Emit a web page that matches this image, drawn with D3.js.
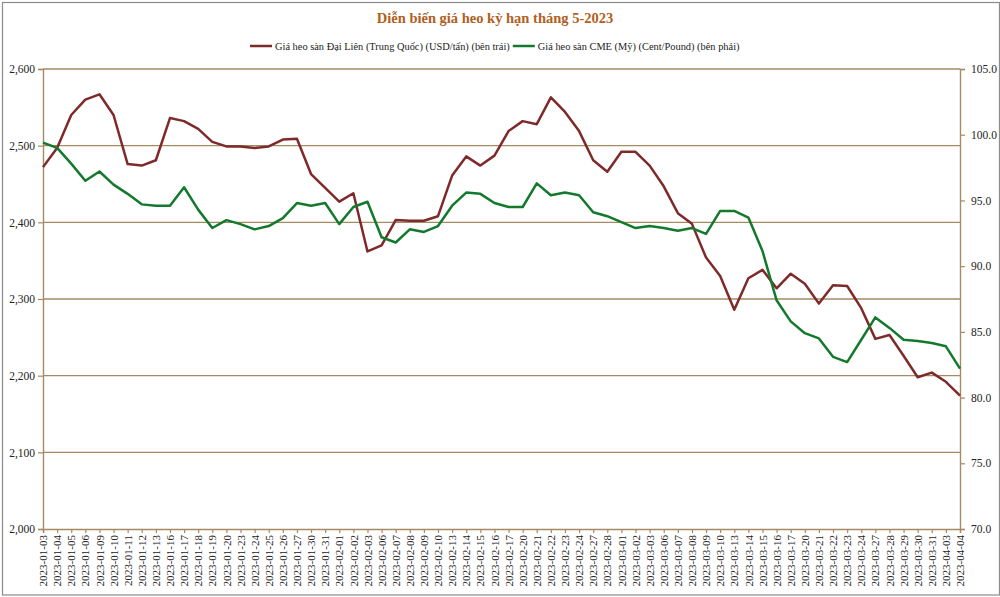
<!DOCTYPE html>
<html>
<head>
<meta charset="utf-8">
<script src="https://cdn.jsdelivr.net/npm/d3@7"></script>
<style>
  body { margin: 0; background: #fff; }
  svg { display: block; font-family: "Liberation Serif", "DejaVu Serif", serif; }
</style>
</head>
<body>
<svg id="chart" width="1000" height="597"></svg>
<script>
// dates on the x axis (trading days)
const dates = [
  "2023-01-03","2023-01-04","2023-01-05","2023-01-06","2023-01-09","2023-01-10","2023-01-11","2023-01-12","2023-01-13",
  "2023-01-16","2023-01-17","2023-01-18","2023-01-19","2023-01-20","2023-01-23","2023-01-24","2023-01-25","2023-01-26",
  "2023-01-27","2023-01-30","2023-01-31","2023-02-01","2023-02-02","2023-02-03","2023-02-06","2023-02-07","2023-02-08",
  "2023-02-09","2023-02-10","2023-02-13","2023-02-14","2023-02-15","2023-02-16","2023-02-17","2023-02-20","2023-02-21",
  "2023-02-22","2023-02-23","2023-02-24","2023-02-27","2023-02-28","2023-03-01","2023-03-02","2023-03-03","2023-03-06",
  "2023-03-07","2023-03-08","2023-03-09","2023-03-10","2023-03-13","2023-03-14","2023-03-15","2023-03-16","2023-03-17",
  "2023-03-20","2023-03-21","2023-03-22","2023-03-23","2023-03-24","2023-03-27","2023-03-28","2023-03-29","2023-03-30",
  "2023-03-31","2023-04-03","2023-04-04"
];

// Dalian hog futures, USD/ton (left axis)
const dalian = [
  2472, 2497, 2540, 2560, 2567, 2540, 2476, 2474, 2481,
  2536, 2532, 2522, 2505, 2499, 2499, 2497, 2499, 2508,
  2509, 2463, 2445, 2427, 2438, 2362, 2370, 2403, 2402,
  2402, 2408, 2461, 2486, 2474, 2487, 2519, 2532, 2528,
  2563, 2544, 2519, 2481, 2466, 2492, 2492, 2474, 2447,
  2412, 2398, 2354, 2330, 2286, 2327, 2338, 2314, 2333,
  2320, 2294, 2318, 2317, 2288, 2248, 2253, 2226, 2198,
  2204, 2192, 2174
];

// CME lean hog futures, cent/pound (right axis)
const cme = [
  99.4, 99.0, 97.8, 96.5, 97.2, 96.2, 95.5, 94.7, 94.6,
  94.6, 96.0, 94.3, 92.9, 93.5, 93.2, 92.8, 93.05, 93.65,
  94.8, 94.6, 94.8, 93.2, 94.5, 94.9, 92.2, 91.8, 92.8,
  92.6, 93.05, 94.6, 95.6, 95.5, 94.8, 94.5, 94.5, 96.3,
  95.4, 95.6, 95.4, 94.1, 93.8, 93.35, 92.9, 93.05, 92.9,
  92.7, 92.9, 92.45, 94.2, 94.2, 93.7, 91.15, 87.4, 85.8,
  84.9, 84.5, 83.1, 82.7, 84.4, 86.1, 85.3, 84.4, 84.3,
  84.15, 83.9, 82.2
];

const leftTicks = [2000, 2100, 2200, 2300, 2400, 2500, 2600];
const rightTicks = [70, 75, 80, 85, 90, 95, 100, 105];

const title = "Diễn biến giá heo kỳ hạn tháng 5-2023";
const seriesNames = [
  "Giá heo sàn Đại Liên (Trung Quốc) (USD/tấn) (bên trái)",
  "Giá heo sàn CME (Mỹ) (Cent/Pound) (bên phải)"
];

const red = "#7f2a2a", green = "#13792c", brown = "#a68a64";
const margin = {top: 69, right: 40, bottom: 68, left: 43};
const W = 1000, H = 597;
const width = W - margin.left - margin.right;
const height = H - margin.top - margin.bottom;

const svg = d3.select("#chart");

// outer frame
svg.append("rect")
  .attr("x", 2.5).attr("y", 2.5)
  .attr("width", W - 3).attr("height", H - 4.5)
  .attr("fill", "none").attr("stroke", "#8c8c8c").attr("stroke-width", 1.2);

svg.append("text")
  .attr("x", 495).attr("y", 23)
  .attr("text-anchor", "middle")
  .attr("font-size", 14.5).attr("font-weight", "bold")
  .attr("fill", "#b0601e")
  .text(title);

const x = d3.scalePoint().domain(dates).range([0, width]);
const yL = d3.scaleLinear().domain([2000, 2600]).range([height, 0]);
const yR = d3.scaleLinear().domain([70, 105]).range([height, 0]);

const g = svg.append("g")
  .attr("transform", `translate(${margin.left},${margin.top})`);

// gridlines
g.append("g").selectAll("line")
  .data(leftTicks.slice(1))
  .enter().append("line")
  .attr("x1", 0).attr("x2", width)
  .attr("y1", d => yL(d)).attr("y2", d => yL(d))
  .attr("stroke", brown).attr("stroke-width", 1.3);

// left axis
const axL = g.append("g")
  .call(d3.axisLeft(yL).tickValues(leftTicks).tickFormat(d3.format(",")).tickSize(5).tickPadding(3));
// right axis
const axR = g.append("g")
  .attr("transform", `translate(${width},0)`)
  .call(d3.axisRight(yR).tickValues(rightTicks).tickFormat(d3.format(".1f")).tickSize(5).tickPadding(6));
// bottom axis
const axB = g.append("g")
  .attr("transform", `translate(0,${height})`)
  .call(d3.axisBottom(x).tickSize(4).tickPadding(3));

[axL, axR, axB].forEach(a => {
  a.select(".domain").attr("stroke", brown).attr("stroke-width", 1.4);
  a.selectAll(".tick line").attr("stroke", brown).attr("stroke-width", 1.2);
  a.selectAll("text").attr("fill", "#222").attr("font-size", 11.5)
    .attr("font-family", "Liberation Serif, serif");
});

axB.selectAll("text")
  .attr("transform", "rotate(-90)")
  .attr("text-anchor", "end")
  .attr("dx", "-0.55em")
  .attr("dy", "0.33em")
  .attr("x", 0).attr("y", 0)
  .attr("font-size", 11);

// lines
const lineL = d3.line().x((d, i) => x(dates[i])).y(d => yL(d));
const lineR = d3.line().x((d, i) => x(dates[i])).y(d => yR(d));

g.append("path").datum(dalian)
  .attr("d", lineL).attr("fill", "none")
  .attr("stroke", red).attr("stroke-width", 2.5).attr("stroke-linejoin", "round");

g.append("path").datum(cme)
  .attr("d", lineR).attr("fill", "none")
  .attr("stroke", green).attr("stroke-width", 2.5).attr("stroke-linejoin", "round");

// legend
const legend = svg.append("g").attr("font-size", 10.4).attr("fill", "#222");
const legItems = [{name: seriesNames[0], color: red}, {name: seriesNames[1], color: green}];
let lx = 250;
legItems.forEach(it => {
  legend.append("line")
    .attr("x1", lx).attr("x2", lx + 22).attr("y1", 46).attr("y2", 46)
    .attr("stroke", it.color).attr("stroke-width", 2.5);
  const t = legend.append("text")
    .attr("x", lx + 25).attr("y", 49.5)
    .attr("fill", "#222")
    .text(it.name);
  lx += 25 + t.node().getComputedTextLength() + 3;
});
</script>
</body>
</html>
